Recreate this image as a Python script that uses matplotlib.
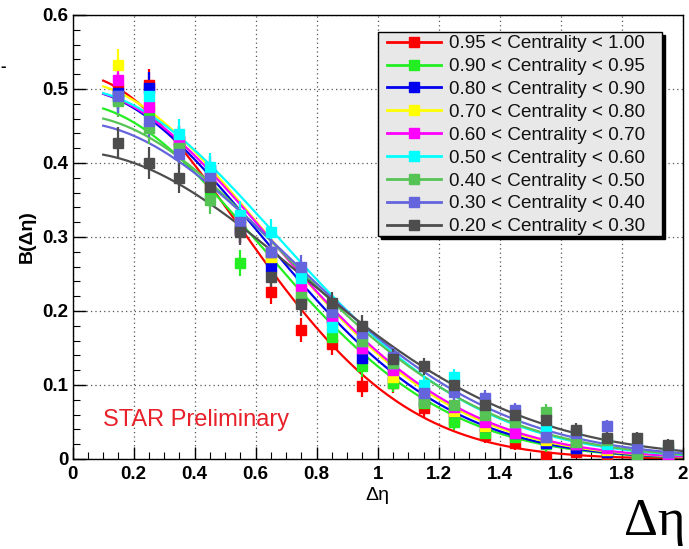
import numpy as np
import matplotlib
matplotlib.use('Agg')
import matplotlib.pyplot as plt
from matplotlib.lines import Line2D
from matplotlib.patches import Rectangle
from matplotlib.ticker import MultipleLocator

# bin centres in delta-eta
deta = [0.15, 0.25, 0.35, 0.45, 0.55, 0.65, 0.75, 0.85, 0.95, 1.05,
        1.15, 1.25, 1.35, 1.45, 1.55, 1.65, 1.75, 1.85, 1.95]
err = [0.022, 0.022, 0.02, 0.019, 0.018, 0.017, 0.016, 0.015, 0.014, 0.013,
       0.012, 0.011, 0.011, 0.01, 0.01, 0.009, 0.009, 0.008, 0.008]

labels = ['0.95 < Centrality < 1.00', '0.90 < Centrality < 0.95',
          '0.80 < Centrality < 0.90', '0.70 < Centrality < 0.80',
          '0.60 < Centrality < 0.70', '0.50 < Centrality < 0.60',
          '0.40 < Centrality < 0.50', '0.30 < Centrality < 0.40',
          '0.20 < Centrality < 0.30']
colors = ['#ff0000', '#22ee22', '#0000ee', '#ffff00', '#ff00ff',
          '#00ffff', '#55c455', '#6464dc', '#4d4d4d']

b_red = [0.50, 0.505, 0.42, 0.37, 0.31, 0.226, 0.174, 0.155, 0.098, 0.102,
         0.069, 0.052, 0.032, 0.022, 0.003, 0.01, 0.003, 0.004, 0.002]
b_green = [0.485, 0.47, 0.42, 0.36, 0.265, 0.27, 0.215, 0.165, 0.125, 0.103,
           0.075, 0.05, 0.035, 0.03, 0.02, 0.015, 0.01, 0.005, 0.005]
b_blue = [0.495, 0.501, 0.43, 0.39, 0.31, 0.26, 0.25, 0.19, 0.136, 0.115,
          0.08, 0.065, 0.045, 0.035, 0.022, 0.015, 0.01, 0.006, 0.004]
b_yellow = [0.532, 0.48, 0.43, 0.38, 0.32, 0.273, 0.235, 0.18, 0.15, 0.111,
            0.085, 0.065, 0.045, 0.04, 0.025, 0.02, 0.012, 0.008, 0.005]
b_magenta = [0.512, 0.476, 0.43, 0.38, 0.325, 0.28, 0.231, 0.19, 0.15, 0.12,
             0.09, 0.07, 0.05, 0.035, 0.03, 0.02, 0.015, 0.01, 0.006]
b_cyan = [0.49, 0.49, 0.439, 0.395, 0.33, 0.307, 0.245, 0.179, 0.159, 0.13,
          0.1, 0.111, 0.065, 0.05, 0.04, 0.03, 0.02, 0.015, 0.01]
b_mgreen = [0.484, 0.447, 0.42, 0.35, 0.315, 0.28, 0.219, 0.2, 0.16, 0.13,
            0.077, 0.073, 0.06, 0.05, 0.064, 0.023, 0.025, 0.005, 0.015]
b_slate = [0.49, 0.457, 0.412, 0.38, 0.32, 0.28, 0.259, 0.199, 0.17, 0.138,
           0.089, 0.09, 0.082, 0.066, 0.03, 0.035, 0.044, 0.015, 0.01]
b_gray = [0.427, 0.40, 0.38, 0.367, 0.307, 0.246, 0.209, 0.211, 0.18, 0.135,
          0.125, 0.10, 0.073, 0.06, 0.053, 0.039, 0.028, 0.028, 0.019]
series = [b_red, b_green, b_blue, b_yellow, b_magenta, b_cyan, b_mgreen, b_slate, b_gray]

# gaussian fit parameters
fit_amp = [0.52, 0.48, 0.50, 0.51, 0.50, 0.50, 0.465, 0.455, 0.415]
fit_sigma = [0.545, 0.61, 0.615, 0.625, 0.635, 0.665, 0.68, 0.70, 0.74]

xticks = [0, 0.2, 0.4, 0.6, 0.8, 1, 1.2, 1.4, 1.6, 1.8, 2]
xticklabels = ['0', '0.2', '0.4', '0.6', '0.8', '1', '1.2', '1.4', '1.6', '1.8', '2']
yticks = [0, 0.1, 0.2, 0.3, 0.4, 0.5, 0.6]
yticklabels = ['0', '0.1', '0.2', '0.3', '0.4', '0.5', '0.6']

plt.rcParams['font.family'] = ['Liberation Sans', 'DejaVu Sans']
fig = plt.figure(figsize=(6.89, 5.49), dpi=100)
ax = fig.add_axes([0.1055, 0.164, 0.8855, 0.8087])

xf = np.linspace(0.1, 2.0, 300)
for i in range(len(series)):
    ax.plot(xf, fit_amp[i] * np.exp(-xf**2 / (2 * fit_sigma[i]**2)),
            color=colors[i], lw=1.6, zorder=2)
for i in range(len(series)):
    ax.errorbar(deta, series[i], yerr=err, fmt='s', color=colors[i], ms=6.5,
                elinewidth=1.6, capsize=0, zorder=3)

ax.set_xlim(0, 2)
ax.set_ylim(0, 0.6)
ax.set_xticks(xticks)
ax.set_xticklabels(xticklabels, fontweight='bold')
ax.set_yticks(yticks)
ax.set_yticklabels(yticklabels, fontweight='bold')
ax.xaxis.set_minor_locator(MultipleLocator(0.05))
ax.yaxis.set_minor_locator(MultipleLocator(0.02))
ax.tick_params(which='both', direction='in', top=False, right=False)
ax.tick_params(which='major', length=9, width=1, labelsize=13.5, pad=3)
ax.tick_params(axis='x', which='major', pad=5)
ax.tick_params(which='minor', length=5, width=0.8)
ax.grid(True, which='major', ls=(0, (1, 2.5)), color='#555555', lw=0.9)
for s in ax.spines.values():
    s.set_linewidth(1)

ax.set_xlabel('Δη', fontsize=14, labelpad=3)
ax.set_ylabel('B(Δη)', fontsize=14, fontweight='bold', labelpad=5)

# legend box with black shadow, drawn by hand to match the pave size
fig.add_artist(Rectangle((381 / 689, 1 - 239 / 549), 284 / 689, 204 / 549,
                         transform=fig.transFigure, facecolor='black',
                         edgecolor='black', zorder=5))
fig.add_artist(Rectangle((378 / 689, 1 - 236 / 549), 284 / 689, 204 / 549,
                         transform=fig.transFigure, facecolor='#e8e8e8',
                         edgecolor='black', lw=1, zorder=6))
handles = [Line2D([], [], color=c, marker='s', ms=6.5, lw=2) for c in colors]
leg = fig.legend(handles, labels, loc='upper left', bbox_to_anchor=(387 / 689, 1 - 35 / 549),
                 bbox_transform=fig.transFigure, borderaxespad=0, borderpad=0,
                 fontsize=13.6, frameon=False, handlelength=2.85,
                 labelspacing=0.30, handletextpad=0.45)
leg.set_zorder(7)
for t in leg.get_texts():
    t.set_color('#111111')

ax.text(0.1, 0.045, 'STAR Preliminary', color='#e8202a', fontsize=17)
fig.text(0.951, 0.005, 'Δη', fontsize=38, color='black',
         family=['Liberation Serif', 'DejaVu Serif'], ha='center', va='bottom')
fig.text(0.0, 0.87, '-', fontsize=12, fontweight='bold', color='black')

fig.savefig('out.png', dpi=100)
